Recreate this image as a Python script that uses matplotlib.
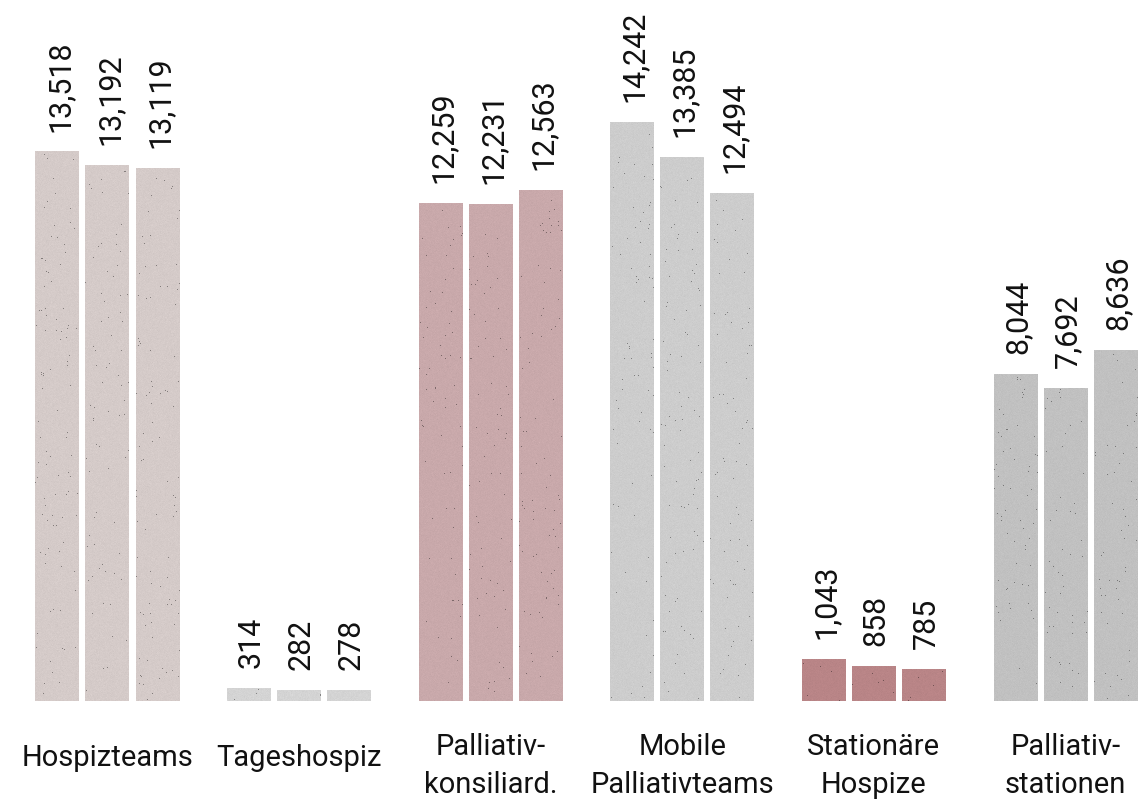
import numpy as np
import matplotlib
matplotlib.use("Agg")
import matplotlib.pyplot as plt
from matplotlib.transforms import blended_transform_factory
from matplotlib.colors import to_rgb

# --- data -------------------------------------------------------------
categories = ["Hospizteams", "Tageshospiz", "Palliativ-\nkonsiliard.",
              "Mobile\nPalliativteams", "Stationäre\nHospize", "Palliativ-\nstationen"]
hospizteams = [13518, 13192, 13119]
tageshospiz = [314, 282, 278]
palliativkonsiliard = [12259, 12231, 12563]
mobile_palliativteams = [14242, 13385, 12494]
stationaere_hospize = [1043, 858, 785]
palliativstationen = [8044, 7692, 8636]
series = [hospizteams, tageshospiz, palliativkonsiliard,
          mobile_palliativteams, stationaere_hospize, palliativstationen]
group_colors = ["#d5cbc9", "#d4d4d4", "#c9a9ab", "#cdcdcd", "#b98587", "#c1c1c1"]

# --- figure -----------------------------------------------------------
W, H, DPI = 1142, 803, 100
fig = plt.figure(figsize=(W / DPI, H / DPI), dpi=DPI)
ax = fig.add_axes([0, 0, 1, 1])
ax.set_axis_off()

num_font = ["Roboto", "DejaVu Sans"]
cat_font = ["Roboto", "DejaVu Sans"]

offsets = [-0.261, 0.0, 0.261]
bar_w = 0.2296
rng = np.random.default_rng(11)


def add_grain(rect, color):
    """Overlay a faint concrete-like speckle clipped to a bar."""
    x0, y0 = rect.get_x(), rect.get_y()
    w, h = rect.get_width(), rect.get_height()
    nx = 44
    ny = max(2, int(round(h * 0.0407)))
    base = np.array(to_rgb(color))
    shade = 1 + rng.normal(0, 0.01, (ny, nx))
    img = np.clip(base[None, None, :] * shade[..., None], 0, 1)
    specks = rng.random((ny, nx)) < 0.0035
    img[specks] = img[specks] * 0.62
    im = ax.imshow(img, extent=[x0, x0 + w, y0, y0 + h], aspect="auto",
                   interpolation="nearest", zorder=3, origin="lower")
    im.set_clip_path(rect)


for gi, (vals, col) in enumerate(zip(series, group_colors)):
    xs = [gi + o for o in offsets]
    bars = ax.bar(xs, vals, width=bar_w, color=col, edgecolor="none", zorder=2)
    for rect in bars:
        add_grain(rect, col)
    for x, v in zip(xs, vals):
        ax.annotate(f"{v:,}", xy=(x, v), xytext=(1.5, 15), textcoords="offset points",
                    rotation=90, ha="center", va="bottom", fontsize=22,
                    family=num_font, color="#111111", zorder=5)

# category labels below the bars
trans = blended_transform_factory(ax.transData, fig.transFigure)
for gi, label in enumerate(categories):
    two = "\n" in label
    ypix = 766 if two else 758
    ax.text(gi, 1 - ypix / H, label, transform=trans, ha="center", va="center",
            fontsize=21, family=cat_font, color="#111111", linespacing=1.42)

ax.set_xlim(-0.561, 5.399)
ax.set_ylim(-2484, 17265)

fig.savefig("out.png", dpi=DPI)
